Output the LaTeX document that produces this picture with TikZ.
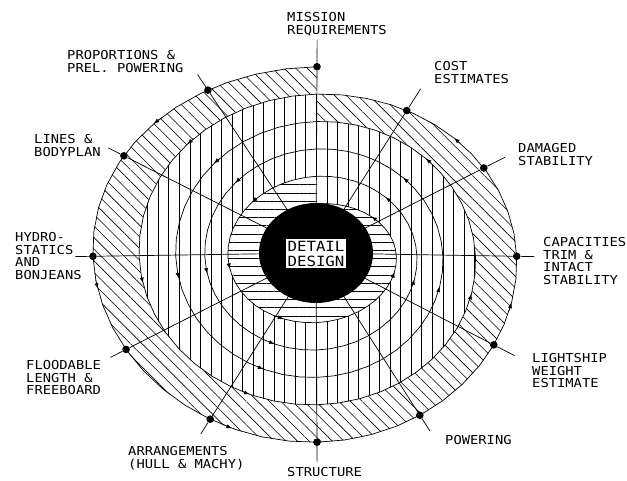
\documentclass[tikz,border=0pt]{standalone}
\usepackage{fontspec}
\usepackage{tikz}
\usetikzlibrary{calc,patterns.meta,arrows.meta}
\newfontfamily\cadfont[FakeStretch=1.12]{DejaVu Sans Mono}

% the spiral: s counts quarter turns from the top, going inwards
\pgfmathdeclarefunction{spx}{1}{\pgfmathparse{317+237.3*exp(-0.05763*#1)*cos(90+90*#1)}}
\pgfmathdeclarefunction{spy}{1}{\pgfmathparse{256.3-(189.6-6.85*#1+(#1<4)*10*sin(45*#1)*sin(45*#1))*sin(90+90*#1)}}

\begin{document}
\begin{tikzpicture}[x=0.03cm,y=-0.03cm]
  \tikzset{dot/.style = {circle,fill,inner sep=0pt,minimum size=6.5pt}}
  \tikzset{sweep/.style = {domain=#1,samples=241,variable=\s}}
  \tikzset{lbl/.style = {anchor=north west,inner sep=0pt,align=left,font=\cadfont\fontsize{10.5}{10.85}\selectfont}}
  \tikzset{hatch/.style = {preaction={fill=white},pattern={Lines[angle=#1,distance=7pt,line width=0.5pt]}}}

  \useasboundingbox (0,0) rectangle (627,480);

  \path[hatch=-45] plot[sweep=0:4] ({spx(\s)},{spy(\s)}) -- cycle;
  \path[preaction={fill=white},pattern={Lines[angle=90,distance=9pt,line width=0.5pt]}]
    plot[sweep=4:8] ({spx(\s)},{spy(\s)}) -- cycle;
  \path[hatch=0] plot[sweep=16:20] ({spx(\s)},{spy(\s)}) -- cycle;
  \draw[line width=0.6pt] plot[sweep=0:20] ({spx(\s)},{spy(\s)});

  \foreach \k in {0,4,...,16}
    \foreach \t in {0.5,1.11,1.74,2.83,3.5} {
      \pgfmathsetmacro\s{\k+\t}
      \draw[-{Latex[length=4.5pt,width=3.5pt]}] ({spx(\s-0.03)},{spy(\s-0.03)}) -- ({spx(\s)},{spy(\s)});
    }

  \coordinate (ctr) at (316,253);
  \foreach \name/\s/\len in {mis/0/23,prop/0.31/16,lines/0.64/15,hyd/1/15,flood/1.33/15,arr/1.67/15,
                             str/2/17,pow/2.33/16,light/2.67/20,cap/3/15,dam/3.35/20,cost/3.69/22} {
    \node[dot] (\name) at ({spx(\s)},{spy(\s)}) {};
    \draw[line width=0.6pt] (ctr) -- (\name) -- ($(\name)!-\len pt!(ctr)$);
  }

  \fill (ctr) ellipse [x radius=57,y radius=50];
  \node[draw,fill=white,line width=0.8pt,inner sep=2pt,align=center,
        font=\cadfont\fontsize{12}{12.8}\selectfont] (detail) at (316,253.5) {DETAIL\\DESIGN};

  \node[lbl] (lmis) at (287,12.5) {MISSION\\REQUIREMENTS};
  \node[lbl] (lcost) at (434,61) {COST\\ESTIMATES};
  \node[lbl] (ldam) at (518,143) {DAMAGED\\STABILITY};
  \node[lbl] (lcap) at (543,237) {CAPACITIES\\TRIM \&\\INTACT\\STABILITY};
  \node[lbl] (llight) at (532,353) {LIGHTSHIP\\WEIGHT\\ESTIMATE};
  \node[lbl] (lpow) at (445,435) {POWERING};
  \node[lbl] (lstr) at (287,467) {STRUCTURE};
  \node[lbl] (larr) at (128,446) {ARRANGEMENTS\\(HULL \& MACHY)};
  \node[lbl] (lflood) at (26,360) {FLOODABLE\\LENGTH \&\\FREEBOARD};
  \node[lbl] (lhyd) at (15,232) {HYDRO-\\STATICS\\AND\\BONJEANS};
  \node[lbl] (llines) at (34,134) {LINES \&\\BODYPLAN};
  \node[lbl] (lprop) at (67,50) {PROPORTIONS \&\\PREL. POWERING};
\end{tikzpicture}
\end{document}
